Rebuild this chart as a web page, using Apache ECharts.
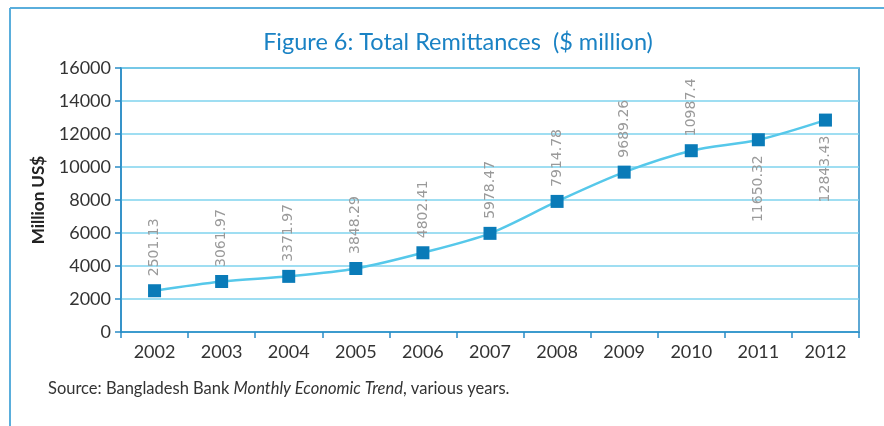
<!DOCTYPE html>
<html><head><meta charset="utf-8">
<script src="https://cdn.jsdelivr.net/npm/echarts@6/dist/echarts.min.js"></script>
<style>html,body{margin:0;padding:0;background:#fff}#c{width:884px;height:426px}</style>
</head><body><div id="c"></div>
<script>
const years = ['2002','2003','2004','2005','2006','2007','2008','2009','2010','2011','2012'];
const remittances = [2501.13, 3061.97, 3371.97, 3848.29, 4802.41, 5978.47, 7914.78, 9689.26, 10987.4, 11650.32, 12843.43];
const labelsBelow = ['2011','2012'];
const titleText = 'Figure 6: Total Remittances  ($ million)';
const yAxisName = 'Million US$';

const chart = echarts.init(document.getElementById('c'));
const dataPts = remittances.map((v, i) => {
  const below = labelsBelow.includes(years[i]);
  return {
    value: v,
    label: below ? { position: 'bottom', align: 'right', distance: 9 } : { position: 'top', align: 'left', distance: 8 }
  };
});
chart.setOption({
  animation: false,
  title: {
    text: titleText, left: 453, top: 25, textAlign: 'center',
    textStyle: { fontFamily: 'Lato', fontWeight: 'normal', fontSize: 23.5, color: '#1a82c4' }
  },
  grid: { left: 121, right: 25, top: 68, height: 264, show: true, borderColor: '#2a8cc6', borderWidth: 1.5 },
  xAxis: {
    type: 'category', data: years, boundaryGap: true,
    axisLine: { lineStyle: { color: '#2a8cc6', width: 1.5 } },
    axisTick: { show: true, length: 6, lineStyle: { color: '#2a8cc6', width: 1.5 } },
    axisLabel: { fontFamily: 'Lato', fontSize: 18, color: '#333', margin: 11 }
  },
  yAxis: {
    type: 'value', min: 0, max: 16000, interval: 2000,
    name: yAxisName, nameLocation: 'middle', nameGap: 74,
    nameTextStyle: { fontFamily: 'Lato', fontWeight: 'bold', fontSize: 17, color: '#222' },
    axisLine: { show: true, lineStyle: { color: '#2a8cc6', width: 1.5 } },
    axisTick: { show: true, length: 6, lineStyle: { color: '#2a8cc6', width: 1.5 } },
    axisLabel: { fontFamily: 'Lato', fontSize: 18, color: '#333', margin: 10, formatter: v => String(v) },
    splitLine: { lineStyle: { color: '#7fd3ee', width: 1.5 } }
  },
  series: [{
    type: 'line', data: dataPts, smooth: 0.3,
    symbol: 'rect', symbolSize: 13,
    itemStyle: { color: '#0a7bb8' },
    lineStyle: { color: '#56c8ea', width: 2.5 },
    label: {
      show: true, rotate: 90, verticalAlign: 'middle',
      fontFamily: 'DejaVu Sans', fontSize: 14, color: '#9a9a9a'
    }
  }],
  graphic: [
    { type: 'line', shape: { x1: 10, y1: 8, x2: 10, y2: 426 }, style: { stroke: '#5aaedc', lineWidth: 2 } },
    { type: 'line', shape: { x1: 10, y1: 8, x2: 884, y2: 8 }, style: { stroke: '#5aaedc', lineWidth: 2 } },
    { type: 'text', left: 48, top: 380, style: {
        text: '{n|Source: Bangladesh Bank }{i|Monthly Economic Trend}{n|, various years.}',
        rich: {
          n: { fontFamily: 'Lato', fontSize: 16.5, fill: '#333' },
          i: { fontFamily: 'Lato', fontSize: 16.5, fontStyle: 'italic', fill: '#333' }
        }
    } }
  ]
});
</script></body></html>
